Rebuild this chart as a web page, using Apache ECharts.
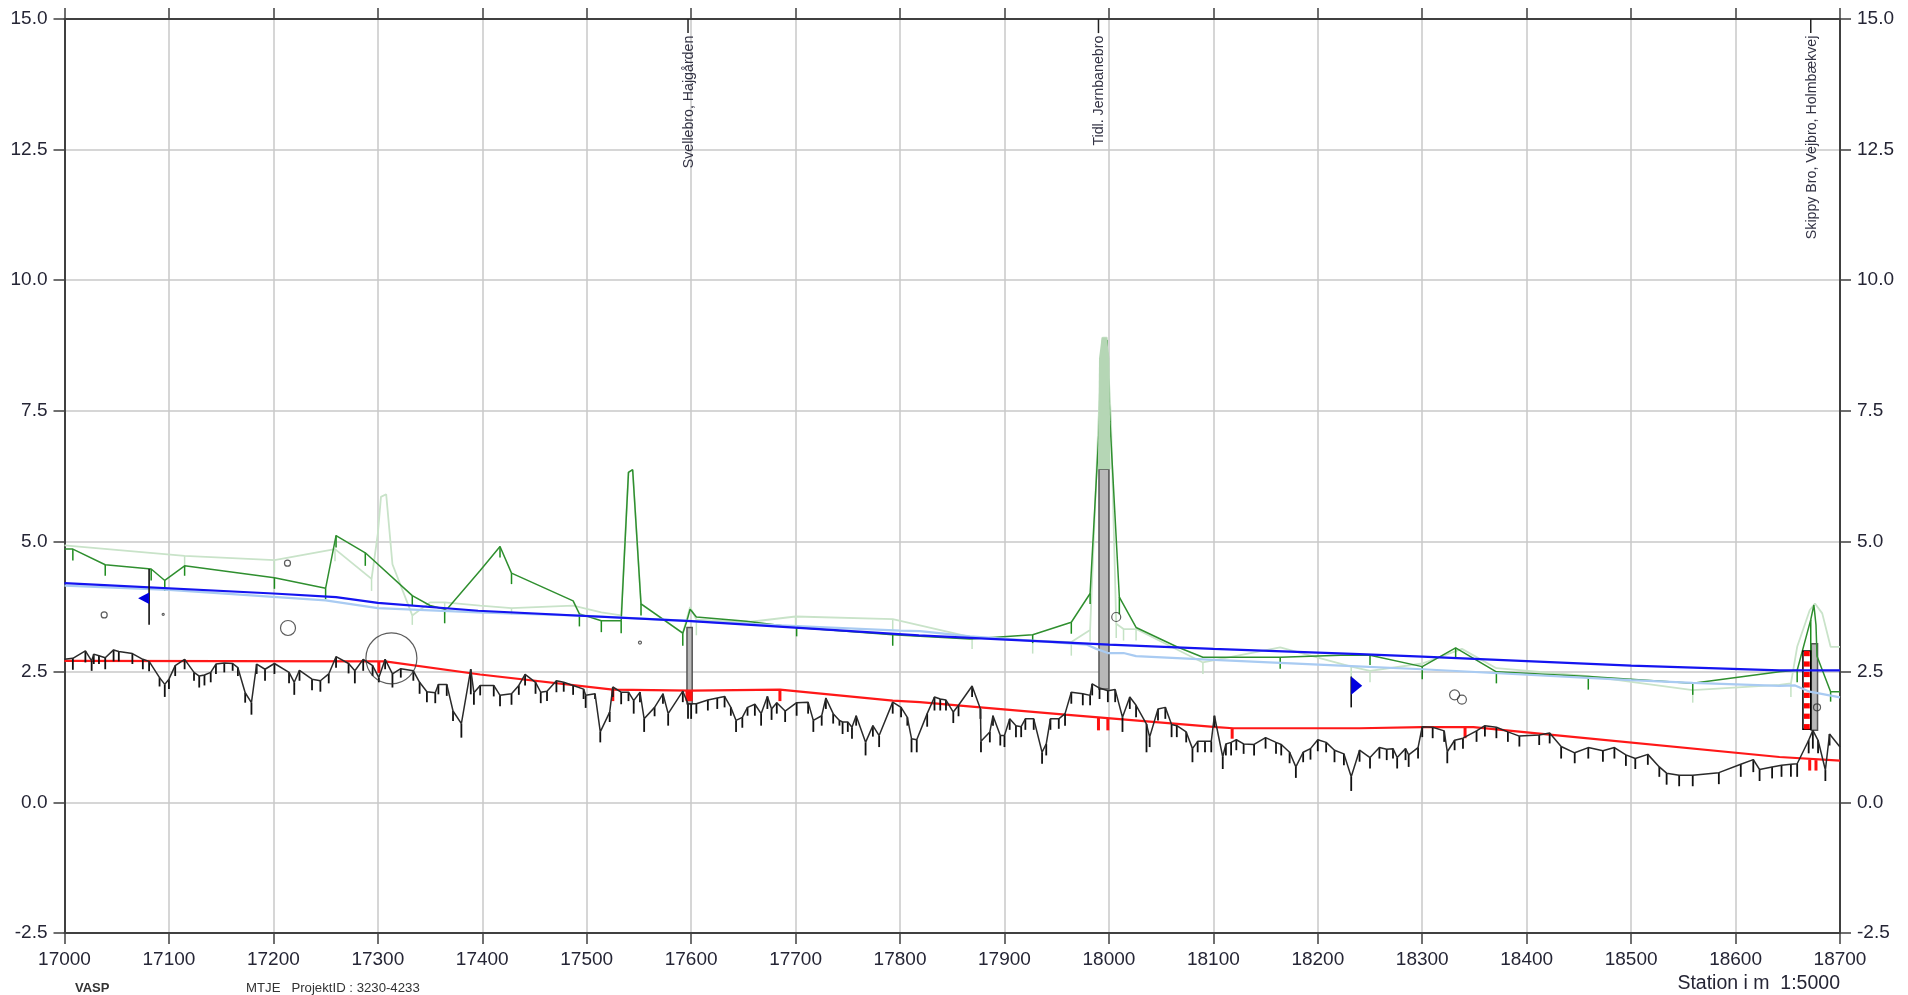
<!DOCTYPE html>
<html><head><meta charset="utf-8">
<style>html,body{margin:0;padding:0;background:#fff}#c{width:1908px;height:995px}</style>
<script src="https://cdn.jsdelivr.net/npm/echarts@6/dist/echarts.min.js"></script>
</head><body><div id="c"></div>
<script>
// [station, elevation, tick low end]
const groundProfile=[[17000,2.74,null],[17008,2.76,2.54],[17020,2.90,2.68],[17026,2.71,2.52],[17028,2.84,2.65],[17033,2.81,2.65],[17039,2.77,2.55],[17047,2.92,2.70],[17052,2.89,2.70],[17065,2.85,2.65],[17075,2.74,2.55],[17081,2.70,2.51],[17091,2.39,2.22],[17096,2.26,2.02],[17100,2.36,2.17],[17106,2.62,2.42],[17115,2.74,2.55],[17124,2.49,2.33],[17129,2.42,2.20],[17134,2.44,2.24],[17140,2.49,2.30],[17145,2.65,2.46],[17153,2.67,2.49],[17161,2.66,2.52],[17166,2.58,2.42],[17173,2.10,1.91],[17179,1.91,1.68],[17184,2.65,2.46],[17192,2.55,2.33],[17201,2.66,2.46],[17215,2.49,2.28],[17220,2.30,2.06],[17225,2.53,2.33],[17237,2.36,2.15],[17245,2.33,2.12],[17253,2.46,2.28],[17260,2.79,2.58],[17272,2.66,2.47],[17278,2.52,2.28],[17286,2.74,2.52],[17295,2.62,2.42],[17301,2.39,2.30],[17307,2.74,2.55],[17314,2.46,2.20],[17322,2.56,2.39],[17334,2.52,2.33],[17340,2.30,2.08],[17347,2.12,1.92],[17355,2.10,1.90],[17358,2.26,2.07],[17366,2.26,2.04],[17372,1.75,1.56],[17380,1.51,1.24],[17389,2.55,2.07],[17392,2.10,1.87],
[17398,2.24,2.05],[17411,2.24,2.03],[17417,2.05,1.84],[17428,2.08,1.87],[17435,2.24,2.06],[17441,2.45,2.24],[17451,2.30,2.08],[17456,2.11,1.90],[17462,2.13,1.94],[17471,2.33,2.11],[17478,2.30,2.12],[17487,2.24,2.06],[17497,2.17,1.98],[17499,2.05,1.81],[17508,2.08,1.98],[17513,1.35,1.15],[17522,1.73,1.54],[17525,2.21,2.02],[17533,2.11,1.88],[17540,2.11,1.94],[17545,1.95,1.70],[17551,2.11,1.92],[17555,1.60,1.35],[17565,1.82,1.65],[17573,2.08,1.89],[17578,1.70,1.47],[17592,2.13,1.92],[17597,1.89,1.60],[17600,1.89,1.60],[17605,1.89,1.70],[17616,1.96,1.76],[17625,2.00,1.79],[17632,2.03,1.82],[17638,1.82,1.66],[17643,1.57,1.35],[17649,1.63,1.43],[17654,1.82,1.66],[17661,1.88,1.66],[17667,1.70,1.47],[17673,2.03,1.79],[17677,1.79,1.58],[17682,1.91,1.70],[17690,1.75,1.54],[17701,1.91,1.66],[17712,1.92,1.70],[17717,1.57,1.35],[17725,1.66,1.47],[17729,2.00,1.79],[17736,1.70,1.51],[17742,1.57,1.47],[17745,1.54,1.31],[17750,1.54,1.35],[17754,1.44,1.22],[17758,1.66,1.47],[17767,1.15,0.90],[17774,1.47,1.26],[17780,1.28,1.06],[17793,1.92,1.70],[17801,1.82,1.63],[17807,1.63,1.47],[17811,1.22,0.96],[17816,1.20,0.96],
[17826,1.70,1.45],[17833,2.02,1.76],[17838.5,1.98,1.76],[17844,1.96,1.76],[17851,1.73,1.52],[17856,1.86,1.65],[17869,2.23,2.02],[17877,1.79,1.60],[17877.5,1.17,0.96],[17886,1.35,1.15],[17889,1.66,1.47],[17896,1.28,1.09],[17900,1.28,1.06],[17905,1.60,1.39],[17911,1.47,1.25],[17916,1.45,1.25],[17920,1.60,1.39],[17928,1.60,1.39],[17936,0.96,0.74],[17940,1.12,0.90],[17944,1.60,1.39],[17952,1.60,1.41],[17958,1.70,1.47],[17964,2.11,1.89],[17975,2.08,1.86],[17982,2.05,1.86],[17984,2.27,2.05],[17991,2.19,1.98],[17999,2.14,1.92],[18006,2.16,1.92],[18013,1.63,1.35],[18020,2.02,1.79],[18026,1.86,1.63],[18036,1.50,0.96],[18039,1.25,1.06],[18047,1.79,1.57],[18054,1.82,1.60],[18060,1.49,1.25],[18065,1.47,1.25],[18074,1.35,1.15],[18080,1.03,0.77],[18085,1.17,0.96],[18092,1.17,0.96],[18098,1.17,0.96],[18101,1.66,1.44],[18109,0.87,0.64],[18112,1.12,0.90],[18117,1.15,0.90],[18122,1.20,1.00],[18129,1.12,0.93],[18139,1.11,0.90],[18150,1.24,1.03],[18160,1.15,0.93],[18165,1.11,0.90],[18173,0.96,0.75],[18179,0.68,0.47],[18186,0.96,0.77],[18193,1.03,0.82],[18200,1.20,0.98],[18208,1.15,0.96],[18216,1.00,0.77],[18225,0.93,0.71],
[18232,0.49,0.22],[18240,1.00,0.78],[18250,0.86,0.65],[18259,1.05,0.84],[18266,1.02,0.81],[18272,1.03,0.84],[18276,0.86,0.65],[18284,1.03,0.81],[18287,0.91,0.68],[18296,1.05,0.84],[18300,1.45,1.25],[18310,1.44,1.23],[18321,1.37,1.16],[18324,0.97,0.75],[18331,1.19,1.00],[18339,1.23,1.03],[18352,1.37,1.16],[18360,1.47,1.26],[18371,1.44,1.23],[18382,1.35,1.16],[18393,1.27,1.07],[18412,1.29,1.10],[18422,1.33,1.13],[18433,1.07,0.84],[18446,0.95,0.75],[18459,1.05,0.84],[18473,0.99,0.78],[18484,1.05,0.84],[18495,0.91,0.70],[18504,0.84,0.64],[18516,0.92,0.72],[18527,0.68,0.49],[18534,0.56,0.34],[18546,0.52,0.31],[18559,0.52,0.31],[18584,0.57,0.35],
[18605,0.73,0.49],[18617,0.82,0.58],[18623,0.63,0.41],[18635,0.68,0.46],[18644,0.71,0.49],[18653,0.73,0.49],[18659,0.74,0.49],[18670,1.19,0.94],[18674,1.38,1.03],[18679,1.19,0.94],[18686,0.62,0.41],[18690,1.31,1.09],[18700,1.06,null]];

const designLine=[[17000,2.71],[17307,2.70],[17398,2.45],[17525,2.16],[17600,2.14],[17685,2.16],[17793,1.95],[17819,1.92],[17877,1.82],[17958,1.68],[18103,1.44],[18119,1.42],[18240,1.42],[18300,1.44],[18349,1.44],[18422,1.30],[18642,0.87],[18700,0.80]];
// [station, top, bottom]
const designTicks=[[17301,2.70,2.48],[17525,2.15,1.94],[17596,2.14,1.94],[17598,2.14,1.94],[17600,2.14,1.94],[17685,2.15,1.94],[17990,1.62,1.38],[17999,1.60,1.38],[18118,1.42,1.22],[18341,1.44,1.23],[18671,0.82,0.61],[18677,0.81,0.61]];

const waterA=[[17000,4.20],[17200,4.00],[17260,3.93],[17300,3.82],[17396,3.67],[17600,3.47],[17818,3.20],[18000,3.02],[18100,2.94],[18240,2.84],[18300,2.79],[18500,2.62],[18642,2.53],[18700,2.53]];
const waterB=[[17000,4.15],[17100,4.07],[17250,3.87],[17300,3.72],[17396,3.64],[17500,3.57],[17685,3.39],[17800,3.29],[17819,3.28],[17867,3.18],[17979,3.02],[17988,2.94],[17999,2.86],[18014,2.86],[18026,2.80],[18090,2.74],[18222,2.62],[18300,2.55],[18500,2.34],[18559,2.29],[18642,2.23],[18657,2.24],[18671,2.12],[18700,2.01]];

const bankDark=[[17000,4.85,null],[17008,4.85,4.63],[17039,4.55,4.34],[17083,4.47,4.25],[17096,4.25,4.05],[17115,4.53,4.34],[17201,4.30,4.09],[17250,4.10,3.89],[17260,5.11,4.88],[17288,4.78,4.53],[17333,3.96,3.77],[17350,3.77,null],[17364,3.70,3.43],[17367,3.72,null],[17398,4.44,null],[17417,4.90,4.69],[17428,4.39,4.18],[17487,3.86,null],[17493,3.61,3.37],[17514,3.48,3.26],[17533,3.48,3.24],[17540,6.32,null],[17544,6.37,null],[17552,3.80,3.58],[17592,3.24,3.00],[17596,3.48,null],[17599,3.70,null],[17605,3.55,null],[17653,3.47,null],[17701,3.35,3.18],[17793,3.21,3.00],[17867,3.13,null],[17927,3.21,3.05],[17964,3.45,3.23],[17982,4.00,3.80],[17991,7.30,null],[17994,8.85,null],[17998,8.85,null],[18001,7.30,null],[18010,3.93,3.60],[18026,3.35,null],[18065,2.98,null],[18090,2.78,null],[18164,2.78,2.56],[18222,2.82,null],[18250,2.82,2.63],[18300,2.60,2.36],[18332,2.96,2.78],[18371,2.50,2.28],[18459,2.41,2.16],[18559,2.28,2.06],[18642,2.50,null],[18659,2.53,2.30],[18672,3.50,2.70],[18675,3.78,null],[18677,3.40,null],[18678,2.80,null],[18691,2.12,1.93],[18700,2.12,null]];

const bankLight=[[17000,4.92,null],[17115,4.72,4.50],[17201,4.64,4.40],[17259,4.85,4.62],[17294,4.28,4.05],[17300,5.14,null],[17303,5.85,null],[17308,5.90,null],[17314,4.56,null],[17333,3.58,3.40],[17350,3.83,null],[17364,3.83,3.60],[17398,3.77,null],[17428,3.72,3.60],[17487,3.77,null],[17514,3.64,null],[17533,3.58,null],[17540,6.32,null],[17544,6.37,null],[17552,3.80,null],[17570,3.55,null],[17592,3.24,null],[17599,3.74,null],[17605,3.50,3.20],[17653,3.45,null],[17700,3.56,3.38],[17793,3.51,3.30],[17819,3.39,null],[17869,3.16,2.94],[17927,3.10,2.85],[17964,3.07,2.81],[17982,3.30,3.08],[17990,7.30,null],[17994,8.90,null],[17998,8.90,null],[18002,7.30,null],[18007,3.42,3.15],[18014,3.32,3.10],[18026,3.32,3.10],[18090,2.68,2.46],[18164,2.97,null],[18232,2.60,2.40],[18250,2.52,2.30],[18300,2.66,null],[18338,2.94,null],[18371,2.57,null],[18459,2.42,null],[18559,2.15,1.91],[18642,2.25,null],[18653,2.28,2.02],[18659,2.98,null],[18671,3.68,null],[18676,3.81,null],[18683,3.62,null],[18691,2.98,null],[18700,2.98,null]];

const peakBand=[[17989.5,6.38],[17990.5,8.50],[17993,8.90],[17998,8.90],[18000.5,8.50],[18001.5,6.38]];
// [station from, station to, top, bottom]
const bridges=[[17596,17601,3.35,1.89],[17990.5,18000,6.38,2.17],[18672.5,18678.5,3.04,1.38]];
const gaugeBox=[18664.5,18672,2.90,1.40];
const gaugeStripes=[[2.90,2.80],[2.70,2.60],[2.50,2.40],[2.30,2.20],[2.10,2.00],[1.90,1.80],[1.70,1.60],[1.50,1.40]];
// [station, elevation, diameter px]
const circles=[[17038,3.59,6],[17094.5,3.60,2],[17214,3.34,15],[17213.5,4.58,6],[17313,2.76,51],[17551,3.06,3],[18007,3.55,9],[18331,2.06,10],[18338,1.97,9],[18678,1.82,7]];
// [station, pole top, pole bottom, flag top, flag bottom, direction]
const flags=[[17081,4.47,3.40,4.02,3.80,-1],[18232,2.41,1.82,2.41,2.06,1]];
const structureStations=[17597,17990,18672];
const structureNames=["Svellebro, Hajgården","Tidl. Jernbanebro","Skippy Bro, Vejbro, Holmbækvej"];
const structureTop=15, structureTickEnd=14.73, structureTextTop=14.68;
const leftFooter=["VASP","MTJE   ProjektID : 3230-4233"], rightFooter="Station i m  1:5000";

const FONT='"Liberation Sans",Arial,sans-serif';
const AX='#404040', TXT='#252535';
const line=(data,color,width,z)=>({type:'line',data:data.map(d=>[d[0],d[1]]),showSymbol:false,symbol:'none',
  lineStyle:{color,width},silent:true,z,animation:false});
const ticks=(rows,color,width,z)=>({type:'custom',data:rows,silent:true,z,clip:true,animation:false,
  renderItem:(p,api)=>{const a=api.coord([api.value(0),api.value(1)]),b=api.coord([api.value(0),api.value(2)]);
    return {type:'line',shape:{x1:a[0],y1:a[1],x2:b[0],y2:b[1]},style:{stroke:color,lineWidth:width}};}});
const withTick=rows=>rows.filter(r=>r[2]!==null);
const rect=(rows,fill,stroke,lw,z)=>({type:'custom',data:rows,silent:true,z,clip:true,animation:false,
  renderItem:(p,api)=>{const a=api.coord([api.value(0),api.value(2)]),b=api.coord([api.value(1),api.value(3)]);
    return {type:'rect',shape:{x:a[0],y:a[1],width:b[0]-a[0],height:b[1]-a[1]},style:{fill,stroke,lineWidth:lw}};}});

const xBase={type:'value',min:17000,max:18700,interval:100};
const yBase={type:'value',min:-2.5,max:15,interval:2.5};
const axLine={show:true,onZero:false,lineStyle:{color:AX,width:2}};
const axTick={show:true,length:11,lineStyle:{color:AX,width:1.5}};
const chart=echarts.init(document.getElementById('c'),null,{renderer:'canvas'});
chart.setOption({
  animation:false,backgroundColor:'#fff',
  grid:{left:64.5,right:68,top:19,bottom:62,containLabel:false},
  xAxis:[
    {...xBase,position:'bottom',axisLine:axLine,axisTick:axTick,
     axisLabel:{show:true,margin:17,fontFamily:FONT,fontSize:19,color:TXT,formatter:v=>String(v),showMinLabel:true,showMaxLabel:true,hideOverlap:false},
     splitLine:{show:true,lineStyle:{color:'#c8c8c8',width:1.5}}},
    {...xBase,position:'top',axisLine:axLine,axisTick:axTick,axisLabel:{show:false},splitLine:{show:false}}
  ],
  yAxis:[
    {...yBase,position:'left',axisLine:axLine,axisTick:axTick,
     axisLabel:{margin:17,fontFamily:FONT,fontSize:19,color:TXT,formatter:v=>v.toFixed(1),showMinLabel:true,showMaxLabel:true},
     splitLine:{show:true,lineStyle:{color:'#c8c8c8',width:1.5}}},
    {...yBase,position:'right',axisLine:axLine,axisTick:axTick,
     axisLabel:{margin:17,fontFamily:FONT,fontSize:19,color:TXT,formatter:v=>v.toFixed(1),showMinLabel:true,showMaxLabel:true},
     splitLine:{show:false}}
  ],
  series:[
    ticks(withTick(bankLight),'#c4e2c4',1.5,3),
    line(bankLight,'#c9e3c9',1.8,3),
    rect(bridges,'#b8b8b8','#555555',1.5,4),
    ticks(withTick(bankDark),'#1e8c1e',1.5,5),
    line(bankDark,'#2f8f2f',1.5,5),
    {type:'custom',data:[0],silent:true,z:6,animation:false,renderItem:(p,api)=>({type:'polygon',
      shape:{points:peakBand.map(d=>api.coord(d))},style:{fill:'#b5d6b5'}})},
    {type:'custom',data:[0],silent:true,z:6,animation:false,renderItem:(p,api)=>{
      const a=api.coord([gaugeBox[0],gaugeBox[2]]),b=api.coord([gaugeBox[1],gaugeBox[3]]);
      return {type:'rect',shape:{x:a[0],y:a[1],width:b[0]-a[0],height:b[1]-a[1]},style:{fill:'#fff',stroke:'#000',lineWidth:1.5}};}},
    {type:'custom',data:gaugeStripes,silent:true,z:7,animation:false,renderItem:(p,api)=>{
      const a=api.coord([gaugeBox[0],api.value(0)]),b=api.coord([gaugeBox[1],api.value(1)]);
      return {type:'rect',shape:{x:a[0]+1,y:a[1],width:b[0]-a[0]-2,height:b[1]-a[1]},style:{fill:'#ff0000'}};}},
    line(waterB,'#a9cbf2',2.2,8),
    line(waterA,'#1414f0',2.2,9),
    ticks(designTicks,'#ff1010',3,10),
    line(designLine,'#ff1818',2.2,10),
    ticks(withTick(groundProfile),'#111',1.8,11),
    line(groundProfile,'#2a2a2a',1.5,11),
    {type:'scatter',data:circles.map(c=>[c[0],c[1]]),symbol:'circle',symbolSize:(v,p)=>circles[p.dataIndex][2],
      itemStyle:{color:'rgba(0,0,0,0)',borderColor:'#333',borderWidth:1.2},silent:true,z:12,animation:false},
    {type:'custom',data:flags,silent:true,z:13,animation:false,renderItem:(p,api)=>{
      const s=api.value(0),a=api.coord([s,api.value(1)]),b=api.coord([s,api.value(2)]),
        t=api.coord([s,api.value(3)]),u=api.coord([s,api.value(4)]),dir=api.value(5);
      return {type:'group',children:[
        {type:'line',shape:{x1:a[0],y1:a[1],x2:b[0],y2:b[1]},style:{stroke:'#111',lineWidth:1.6}},
        {type:'polygon',shape:{points:[t,u,[t[0]+dir*11,(t[1]+u[1])/2]]},style:{fill:'#0000e0'}}]};}},
    {type:'custom',data:structureStations,silent:true,z:14,animation:false,clip:false,renderItem:(p,api)=>{
      const s=api.value(0),a=api.coord([s,structureTop]),b=api.coord([s,structureTickEnd]),t=api.coord([s,structureTextTop]);
      return {type:'group',children:[
        {type:'line',shape:{x1:a[0],y1:a[1],x2:b[0],y2:b[1]},style:{stroke:'#222',lineWidth:1.5}},
        {type:'text',x:t[0]+1,y:t[1],rotation:Math.PI/2,style:{text:structureNames[p.dataIndex],align:'right',verticalAlign:'middle',
          fontFamily:FONT,fontSize:14.2,fill:'#333344'}}]};}}
  ],
  graphic:[
    {type:'text',left:75,top:982,style:{text:leftFooter[0],fontFamily:FONT,fontSize:13,fontWeight:'bold',fill:'#333'}},
    {type:'text',left:246,top:982,style:{text:leftFooter[1],fontFamily:FONT,fontSize:13.2,fill:'#333'}},
    {type:'text',right:68,top:974,style:{text:rightFooter,fontFamily:FONT,fontSize:19.5,fill:TXT}}
  ]
});
</script></body></html>
